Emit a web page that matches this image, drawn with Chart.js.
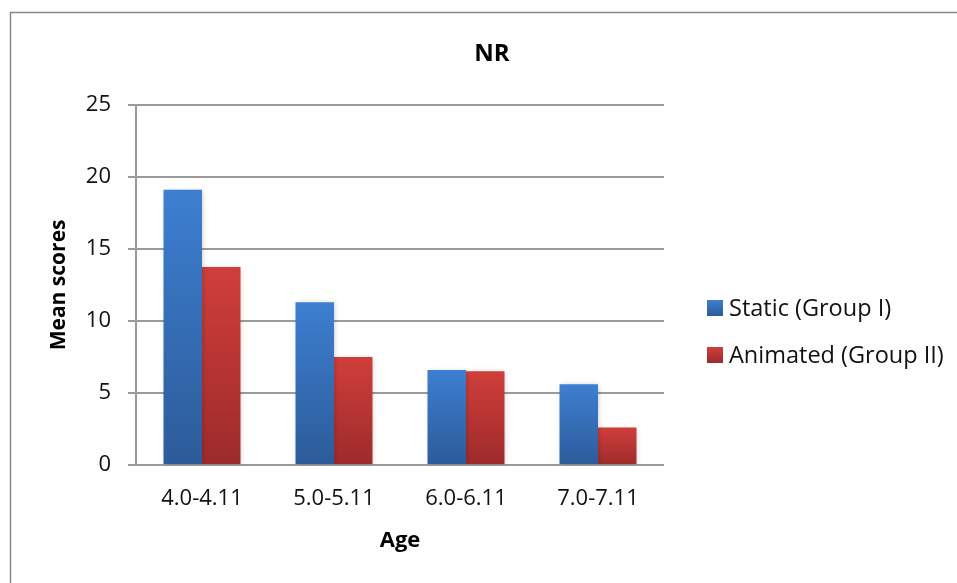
<!DOCTYPE html>
<html>
<head>
<meta charset="utf-8">
<script src="https://cdn.jsdelivr.net/npm/chart.js@4"></script>
<style>
  html, body { margin: 0; padding: 0; background: #ffffff; }
  #wrap { width: 957px; height: 583px; }
</style>
</head>
<body>
<div id="wrap"><canvas id="c" width="957" height="583"></canvas></div>
<script>
// Age bands and mean NR scores per group
const ageGroups = ['4.0-4.11', '5.0-5.11', '6.0-6.11', '7.0-7.11'];
const staticScores = [19.1, 11.3, 6.6, 5.6];
const animatedScores = [13.75, 7.5, 6.5, 2.6];
const seriesNames = ['Static (Group I)', 'Animated (Group II)'];
const yTicks = [0, 5, 10, 15, 20, 25];

const FONT = '"Open Sans", Lato, sans-serif';
const TEXT = '#111111';
const GRID = '#9a9a9a';

// colour stops: top (light) → bottom (dark)
const palettes = [
  ['#3d7fd1', '#2c5b99'],
  ['#d03e3b', '#9d2b2b']
];

function barGradient(ctx, pal, yTop, yBottom) {
  const g = ctx.createLinearGradient(0, yTop, 0, yBottom);
  g.addColorStop(0, pal[0]);
  g.addColorStop(1, pal[1]);
  return g;
}

function scriptedFill(pal) {
  return function (context) {
    const chart = context.chart;
    const y = chart.scales.y;
    if (!chart.chartArea || !y || context.raw === undefined) return pal[0];
    const top = y.getPixelForValue(context.raw);
    const bottom = y.getPixelForValue(0);
    if (!isFinite(top) || !isFinite(bottom) || top === bottom) return pal[0];
    return barGradient(chart.ctx, pal, top, bottom);
  };
}

// outer frame
const framePlugin = {
  id: 'frame',
  beforeDraw(chart) {
    const ctx = chart.ctx;
    ctx.save();
    ctx.fillStyle = '#ffffff';
    ctx.fillRect(0, 0, chart.width, chart.height);
    ctx.strokeStyle = '#8a8a8a';
    ctx.lineWidth = 1.5;
    ctx.strokeRect(10.5, 12.5, chart.width + 20, chart.height + 20);
    ctx.restore();
  }
};

// soft drop shadow under the bars
const shadowPlugin = {
  id: 'barShadow',
  beforeDatasetsDraw(chart) {
    const ctx = chart.ctx;
    ctx.save();
    ctx.shadowColor = 'rgba(0,0,0,0.22)';
    ctx.shadowBlur = 5;
    ctx.shadowOffsetX = 1;
    ctx.shadowOffsetY = 1;
  },
  afterDatasetsDraw(chart) {
    chart.ctx.restore();
  }
};

// legend drawn to the right of the plot area
const sideLegend = {
  id: 'sideLegend',
  afterDraw(chart) {
    const ctx = chart.ctx;
    const area = chart.chartArea;
    const x0 = area.right + 43;
    const rows = [308, 355];
    ctx.save();
    ctx.font = '23.5px ' + FONT;
    ctx.textBaseline = 'middle';
    chart.data.datasets.forEach((ds, i) => {
      const cy = rows[i];
      ctx.fillStyle = barGradient(ctx, palettes[i], cy - 8, cy + 8);
      ctx.fillRect(x0, cy - 8, 16, 16);
      ctx.fillStyle = TEXT;
      ctx.fillText(ds.label, x0 + 22, cy + 1);
    });
    ctx.restore();
  }
};

new Chart(document.getElementById('c'), {
  type: 'bar',
  data: {
    labels: ageGroups,
    datasets: [
      { label: seriesNames[0], data: staticScores, backgroundColor: scriptedFill(palettes[0]) },
      { label: seriesNames[1], data: animatedScores, backgroundColor: scriptedFill(palettes[1]) }
    ]
  },
  options: {
    responsive: false,
    animation: false,
    devicePixelRatio: 1,
    layout: { padding: { left: 27, right: 0, top: 0, bottom: 0 } },
    datasets: {
      bar: { categoryPercentage: 0.583, barPercentage: 1.0, borderWidth: 0 }
    },
    plugins: {
      legend: { display: false },
      tooltip: { enabled: false },
      title: {
        display: true,
        text: 'NR',
        color: '#000000',
        font: { family: FONT, size: 24, weight: 'bold', lineHeight: 1.2 },
        padding: { top: 40, bottom: 36 }
      }
    },
    scales: {
      x: {
        grid: { display: false, drawTicks: false },
        border: { display: false },
        ticks: { color: TEXT, font: { family: FONT, size: 22 }, padding: 21, maxRotation: 0 },
        title: {
          display: true, text: 'Age', color: '#000000',
          font: { family: FONT, size: 22, weight: 'bold', lineHeight: 1.2 },
          padding: { top: 4, bottom: 29 }
        },
        afterFit(scale) { scale.height = 118; }
      },
      y: {
        position: 'left',
        min: 0, max: 25,
        afterBuildTicks(scale) { scale.ticks = yTicks.map(v => ({ value: v })); },
        grid: { color: GRID, lineWidth: 2, tickLength: 8, drawTicks: true },
        border: { display: true, color: GRID, width: 2 },
        ticks: { color: TEXT, font: { family: FONT, size: 22 }, padding: 17 },
        title: {
          display: true, text: 'Mean scores', color: '#000000',
          font: { family: FONT, size: 21, weight: 'bold', lineHeight: 1.2 },
          padding: { top: 19, bottom: 4 }
        },
        afterFit(scale) { scale.width = 109; }
      },
      side: {
        type: 'linear',
        position: 'right',
        grid: { display: false, drawTicks: false },
        border: { display: false },
        ticks: { display: false },
        afterFit(scale) { scale.width = 293; }
      }
    }
  },
  plugins: [framePlugin, shadowPlugin, sideLegend]
});
</script>
</body>
</html>
